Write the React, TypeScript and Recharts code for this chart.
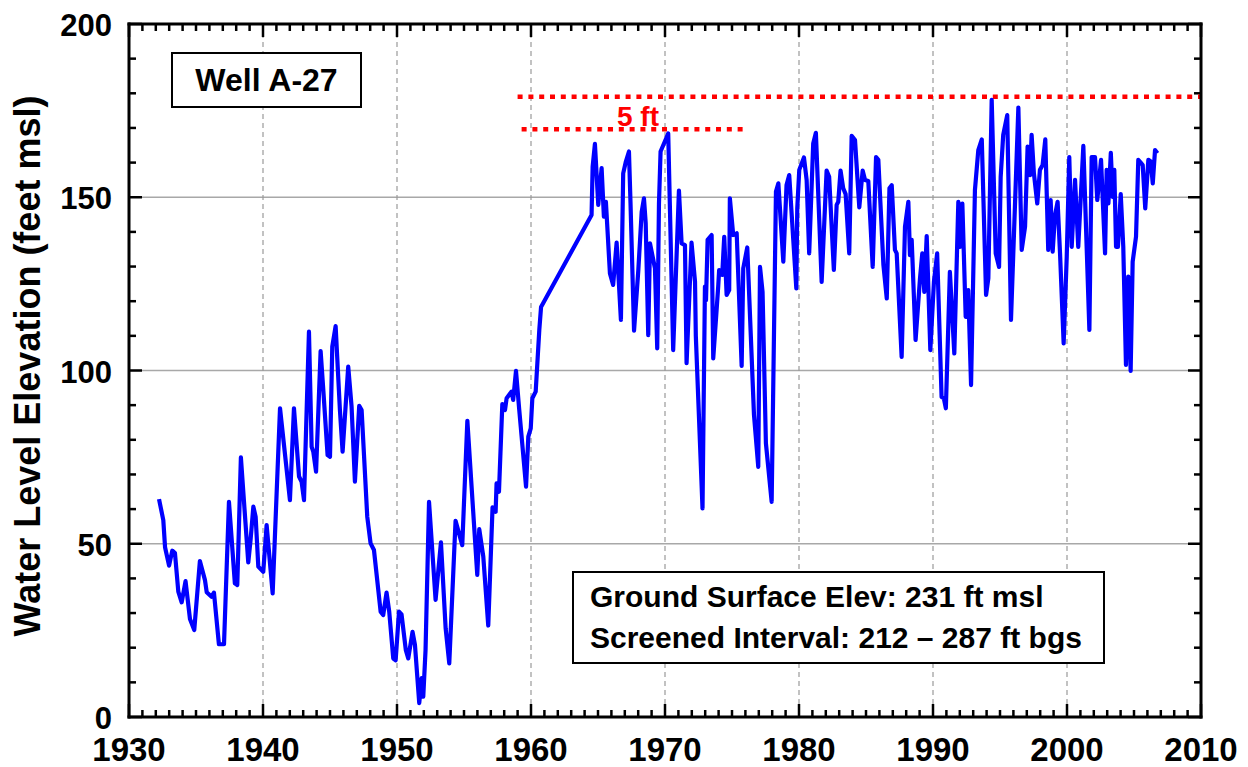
import React from 'react';
import {
  LineChart, Line, XAxis, YAxis, CartesianGrid, ReferenceLine
} from 'recharts';

// decimal year of each reading
const years = [
  1932.24, 1932.56, 1932.69, 1932.99, 1933.23, 1933.43, 1933.68, 1933.93, 1934.22, 1934.55,
  1934.87, 1935.29, 1935.67, 1935.8, 1936.16, 1936.34, 1936.71, 1937.09, 1937.46, 1937.9,
  1938.08, 1938.35, 1938.9, 1939.07, 1939.28, 1939.45, 1939.65, 1940.02, 1940.27, 1940.72,
  1941.27, 1942.01, 1942.31, 1942.69, 1942.88, 1943.06, 1943.43, 1943.63, 1943.75, 1943.96,
  1944.3, 1944.5, 1944.82, 1945.0, 1945.17, 1945.42, 1945.74, 1945.94, 1946.36, 1946.61,
  1946.86, 1947.18, 1947.36, 1947.78, 1948.03, 1948.28, 1948.78, 1948.97, 1949.22, 1949.42,
  1949.72, 1949.9, 1950.15, 1950.34, 1950.66, 1950.84, 1951.16, 1951.34, 1951.66, 1951.84,
  1951.96, 1952.13, 1952.39, 1952.88, 1953.28, 1953.63, 1953.9, 1954.37, 1954.87, 1955.25,
  1955.99, 1956.14, 1956.44, 1956.81, 1957.13, 1957.36, 1957.43, 1957.61, 1957.86, 1958.06,
  1958.18, 1958.55, 1958.67, 1958.88, 1959.12, 1959.63, 1959.8, 1959.98, 1960.1, 1960.35,
  1960.62, 1960.75, 1964.52, 1964.6, 1964.77, 1965.02, 1965.27, 1965.44, 1965.59, 1965.89,
  1966.13, 1966.39, 1966.71, 1966.88, 1967.08, 1967.31, 1967.43, 1967.69, 1968.01, 1968.26,
  1968.43, 1968.56, 1968.75, 1968.88, 1969.25, 1969.42, 1969.55, 1969.67, 1970.24, 1970.61,
  1971.04, 1971.24, 1971.49, 1971.61, 1971.98, 1972.24, 1972.3, 1972.8, 1972.98, 1973.06,
  1973.18, 1973.48, 1973.6, 1973.8, 1973.97, 1974.04, 1974.27, 1974.42, 1974.6, 1974.79,
  1974.84, 1975.09, 1975.35, 1975.72, 1975.84, 1976.14, 1976.64, 1976.96, 1977.09, 1977.28,
  1977.53, 1977.96, 1978.28, 1978.46, 1978.83, 1979.07, 1979.27, 1979.8, 1979.87, 1980.02,
  1980.37, 1980.57, 1980.76, 1981.06, 1981.26, 1981.69, 1982.06, 1982.25, 1982.6, 1982.81,
  1982.93, 1983.1, 1983.3, 1983.48, 1983.75, 1983.93, 1984.18, 1984.5, 1984.75, 1984.93,
  1985.17, 1985.5, 1985.75, 1985.92, 1986.3, 1986.55, 1986.75, 1986.92, 1987.16, 1987.29,
  1987.66, 1987.91, 1988.16, 1988.28, 1988.41, 1988.7, 1989.03, 1989.2, 1989.35, 1989.53,
  1989.8, 1990.07, 1990.31, 1990.64, 1990.81, 1990.96, 1991.26, 1991.59, 1991.89, 1992.01,
  1992.19, 1992.44, 1992.63, 1992.84, 1993.13, 1993.38, 1993.64, 1993.96, 1994.13, 1994.38,
  1994.68, 1994.93, 1995.05, 1995.24, 1995.54, 1995.82, 1996.37, 1996.62, 1996.87, 1997.06,
  1997.24, 1997.36, 1997.53, 1997.78, 1997.98, 1998.18, 1998.38, 1998.6, 1998.78, 1998.93,
  1999.1, 1999.3, 1999.48, 1999.75, 1999.98, 2000.17, 2000.35, 2000.6, 2000.84, 2001.22,
  2001.67, 2001.84, 2002.09, 2002.26, 2002.54, 2002.84, 2002.96, 2003.09, 2003.27, 2003.41,
  2003.53, 2003.66, 2003.8, 2004.01, 2004.2, 2004.4, 2004.57, 2004.75, 2004.9, 2005.15,
  2005.32, 2005.5, 2005.65, 2005.84, 2006.07, 2006.25, 2006.4, 2006.57, 2006.75,
];

// water level elevation, feet msl
const levels = [
  62.9, 56.8, 49, 43.7, 48, 47.3, 36.2, 33.1, 39.2, 28.3,
  25.1, 45, 39.5, 36, 34.7, 35.9, 21, 21, 62.1, 38.6,
  38.1, 74.9, 44.6, 51, 60.7, 57.8, 43.4, 41.9, 55.4, 35.7,
  89.1, 62.6, 89.1, 69.4, 67.9, 62.6, 111.2, 78, 76.6, 70.8,
  105.6, 94.4, 75.6, 75.1, 106.9, 112.8, 88.6, 76.6, 101.1, 89.6,
  67.9, 89.8, 88.6, 57.8, 50.1, 48.2, 30.4, 29.4, 35.9, 30.4,
  16.9, 16.4, 30.4, 29.6, 19.3, 16.9, 24.6, 20.8, 4, 11.2,
  5.9, 19.3, 62.1, 33.8, 50.4, 25.6, 15.5, 56.6, 49.6, 85.5,
  41, 54.2, 46.3, 26.4, 60.5, 59.2, 67.4, 65, 90.3, 88.6,
  92, 93.9, 91.5, 99.9, 88.8, 66.5, 80.9, 83.3, 92, 93.9,
  111.7, 118.3, 144.9, 158.8, 165.4, 147.8, 158.4, 144.4, 148.7, 128,
  124.7, 136.9, 114.6, 156.9, 160.3, 163.2, 147.8, 111.5, 129, 145.8,
  149.7, 142.5, 110.2, 136.7, 129.5, 106.4, 148.2, 163.2, 168.4, 105.9,
  151.9, 136.7, 136.2, 102.1, 136.9, 125.6, 110, 60.2, 124.2, 120.3,
  137.7, 139.1, 103.5, 114.6, 124.2, 129, 127.6, 138.6, 121.8, 123.2,
  149.7, 139.1, 139.6, 101.3, 129.5, 135.5, 87.2, 72.2, 129.9, 122.7,
  79, 62.1, 151.6, 154, 131.4, 153.5, 156.4, 123.7, 146.8, 157.9,
  161.5, 155, 133.8, 165.5, 168.6, 125.6, 157.7, 155.9, 129, 147.8,
  148.7, 157.7, 152.6, 150.9, 133.8, 167.7, 166.5, 147.1, 157.7, 155,
  154.7, 129.9, 161.6, 160.8, 130.4, 120.8, 152.6, 153.5, 134.8, 133.8,
  103.9, 141.5, 148.7, 133.3, 137.7, 108.8, 126.6, 133.8, 122.7, 138.8,
  105.9, 125.6, 133.8, 92.4, 92, 89.1, 128.5, 104.9, 148.7, 135.7,
  148.2, 115.5, 123.2, 95.8, 152.1, 163.6, 166.7, 121.8, 126.6, 178.1,
  133.8, 129.9, 155.9, 168, 173.7, 114.6, 175.9, 134.8, 141.5, 164.6,
  156.4, 168, 156.9, 148.2, 157.9, 159.3, 166.7, 134.8, 149.2, 134.3,
  144.6, 148.7, 133.8, 107.8, 132.8, 161.6, 135.7, 155, 135.7, 164.8,
  111.7, 161.6, 161.6, 149.2, 160.8, 133.8, 157.9, 148.2, 162.8, 150.1,
  157.9, 135.7, 135.7, 150.9, 135.7, 101.6, 127.1, 99.9, 131.4, 138.6,
  160.8, 160, 159.3, 146.8, 160.8, 160.3, 154, 163.6, 162.7,
];

const decadeTicks = [1930, 1940, 1950, 1960, 1970, 1980, 1990, 2000, 2010];
const levelLabelTicks = [0, 50, 100, 150, 200];
const yearTicks = Array.from({ length: 81 }, (_, i) => 1930 + i);
const levelTicks = Array.from({ length: 21 }, (_, i) => i * 10);
const decadeGrid = [1940, 1950, 1960, 1970, 1980, 1990, 2000];
const levelGrid = [50, 100, 150];

// the two red dotted reference levels
const upperRef = [{ x: 1959, y: 179 }, { x: 2010, y: 179 }];
const lowerRef = [{ x: 1959.3, y: 169.6 }, { x: 1976, y: 169.6 }];

const data = years.map((year, i) => ({ year, level: levels[i] }));

const FONT = '"Liberation Sans", Arial, sans-serif';
const X_DOMAIN: [number, number] = [1930, 2010];
const Y_DOMAIN: [number, number] = [0, 200];

// plot is 1072 x 693 px; inward tick marks are drawn as short segments in data units
const YEAR_PER_PX = 80 / 1072;
const FT_PER_PX = 200 / 693;
const tickLen = (major: boolean) => (major ? 13 : 7);

const tickSegments: { x: number; y: number }[][] = [];
yearTicks.forEach((yr) => {
  const len = tickLen(yr % 10 === 0) * FT_PER_PX;
  tickSegments.push([{ x: yr, y: 0 }, { x: yr, y: len }]);
  tickSegments.push([{ x: yr, y: 200 }, { x: yr, y: 200 - len }]);
});
levelTicks.forEach((lv) => {
  const len = tickLen(lv % 50 === 0) * YEAR_PER_PX;
  tickSegments.push([{ x: 1930, y: lv }, { x: 1930 + len, y: lv }]);
  tickSegments.push([{ x: 2010, y: lv }, { x: 2010 - len, y: lv }]);
});

const BottomLabel = (p: any) => (
  <text x={p.x} y={p.y + 44} textAnchor="middle" fontFamily={FONT} fontWeight="bold" fontSize={33} fill="#000">
    {p.payload.value}
  </text>
);

const LeftLabel = (p: any) => (
  <text x={p.x - 17} y={p.y + 12} textAnchor="end" fontFamily={FONT} fontWeight="bold" fontSize={31} fill="#000">
    {p.payload.value}
  </text>
);

const axisLine = { stroke: '#000', strokeWidth: 3, strokeLinecap: 'square' as const };

export default function App() {
  return (
    <div style={{ position: 'absolute', left: 0, top: 0, width: 1248, height: 767, background: '#fff', fontFamily: FONT }}>
      <LineChart width={1248} height={767} data={data} margin={{ top: 23, right: 46, bottom: 0, left: 0 }}>
        <CartesianGrid xAxisId="b" yAxisId="l" vertical={false} horizontalValues={levelGrid} stroke="#a8a8a8" strokeWidth={1.5} />
        <CartesianGrid xAxisId="b" yAxisId="l" horizontal={false} verticalValues={decadeGrid} stroke="#9a9a9a" strokeWidth={1.2} strokeDasharray="5 4" />

        <XAxis xAxisId="b" orientation="bottom" type="number" dataKey="year" domain={X_DOMAIN} ticks={decadeTicks}
          interval={0} height={50} tickSize={0} tickMargin={0} axisLine={axisLine} tickLine={false} tick={BottomLabel} />
        <XAxis xAxisId="t" orientation="top" type="number" dataKey="year" domain={X_DOMAIN} ticks={decadeTicks}
          interval={0} height={1} tickSize={0} tickMargin={0} axisLine={axisLine} tickLine={false} tick={false} />
        <YAxis yAxisId="l" orientation="left" type="number" domain={Y_DOMAIN} ticks={levelLabelTicks}
          interval={0} width={129} tickSize={0} tickMargin={0} axisLine={axisLine} tickLine={false} tick={LeftLabel} />
        <YAxis yAxisId="r" orientation="right" type="number" domain={Y_DOMAIN} ticks={levelLabelTicks}
          interval={0} width={1} tickSize={0} tickMargin={0} axisLine={axisLine} tickLine={false} tick={false} />

        {tickSegments.map((seg, i) => (
          <ReferenceLine key={`tk${i}`} xAxisId="b" yAxisId="l" segment={seg} stroke="#000" strokeWidth={2.5} ifOverflow="visible" />
        ))}

        <ReferenceLine xAxisId="b" yAxisId="l" segment={upperRef} stroke="#ff0000" strokeWidth={4.5} strokeDasharray="5 5.8" ifOverflow="visible" />
        <ReferenceLine xAxisId="b" yAxisId="l" segment={lowerRef} stroke="#ff0000" strokeWidth={4.5} strokeDasharray="5 5.8" ifOverflow="visible" />
        <Line xAxisId="b" yAxisId="l" type="linear" dataKey="level" stroke="#0000ff" strokeWidth={4.2}
          strokeLinejoin="round" dot={false} activeDot={false} isAnimationActive={false} />
      </LineChart>

      <div style={{
        position: 'absolute', left: 28, top: 366, transform: 'translate(-50%, -50%) rotate(-90deg)',
        whiteSpace: 'nowrap', fontSize: 36, fontWeight: 'bold', color: '#000', lineHeight: 1,
      }}>
        Water Level Elevation (feet msl)
      </div>

      <div style={{
        position: 'absolute', left: 171, top: 52, width: 191, height: 56, boxSizing: 'border-box',
        border: '2px solid #000', background: '#fff', display: 'flex', alignItems: 'center', justifyContent: 'center',
        fontSize: 32, fontWeight: 'bold', color: '#000',
      }}>
        Well A-27
      </div>

      <div style={{
        position: 'absolute', left: 617, top: 103, fontSize: 28, fontWeight: 'bold', color: '#ff0000', lineHeight: 1,
      }}>
        5 ft
      </div>

      <div style={{
        position: 'absolute', left: 572, top: 571, width: 533, height: 93, boxSizing: 'border-box',
        border: '2px solid #000', background: '#fff', padding: '3px 0 0 16px',
        fontSize: 30, fontWeight: 'bold', color: '#000', lineHeight: '41px', whiteSpace: 'nowrap',
      }}>
        <div>Ground Surface Elev: 231 ft msl</div>
        <div>Screened Interval: 212 – 287 ft bgs</div>
      </div>
    </div>
  );
}
